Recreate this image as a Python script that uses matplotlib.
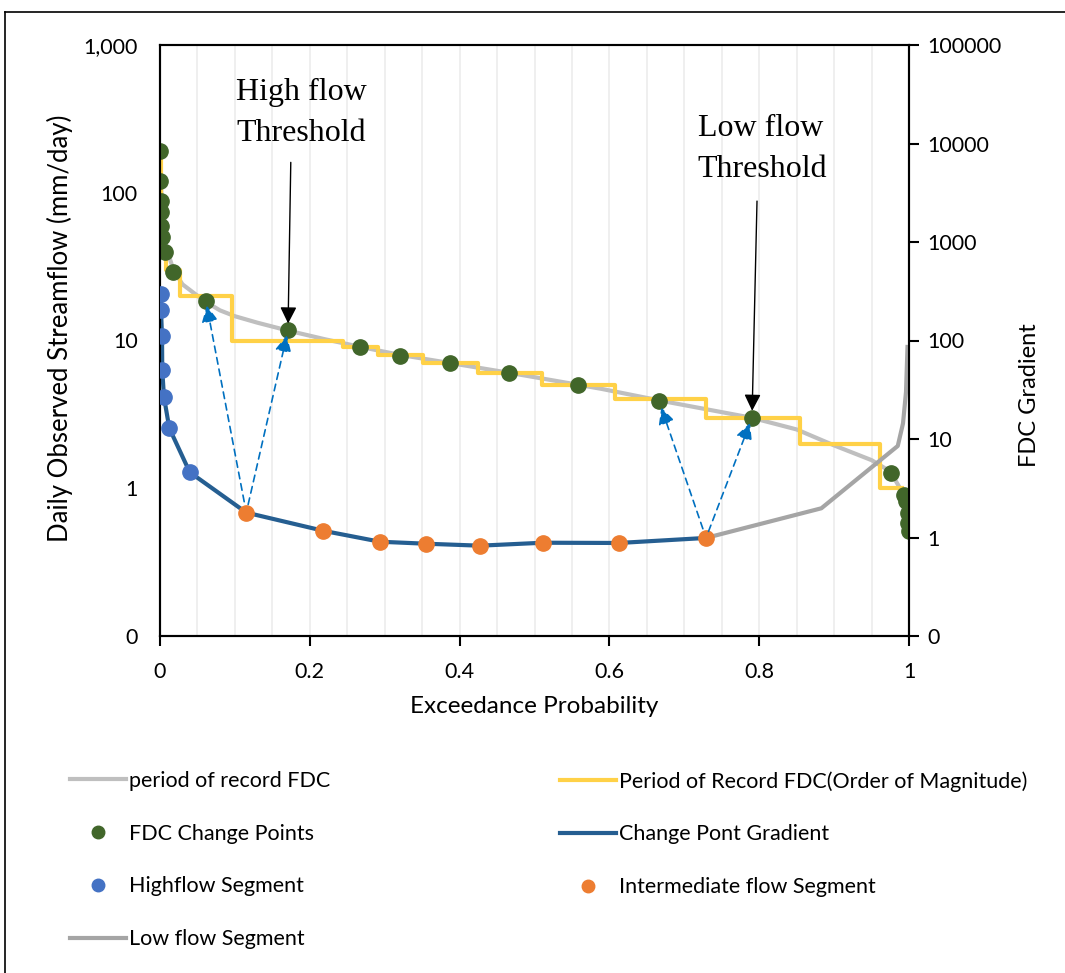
import numpy as np
import matplotlib.pyplot as plt
from matplotlib.lines import Line2D
from matplotlib.ticker import NullLocator

plt.rcParams.update({
    'font.family': 'Lato',
    'font.size': 15.5,
    'axes.linewidth': 1.5,
})

# period of record FDC (left axis, mm/day)
fdc_p = [0, 0.001, 0.003, 0.006, 0.01, 0.018, 0.03, 0.045, 0.06, 0.08, 0.1, 0.13, 0.17,
         0.22, 0.27, 0.32, 0.39, 0.47, 0.56, 0.59, 0.67, 0.79, 0.85, 0.9, 0.95, 0.975,
         0.988, 0.995, 1.0]
fdc_q = [190, 120, 75, 50, 40, 30, 24, 21, 18.4, 16, 14.6, 13.2, 11.7, 10.2, 9.0, 8.0,
         7.0, 6.0, 5.0, 4.7, 3.9, 3.0, 2.5, 1.95, 1.55, 1.3, 1.0, 0.8, 0.5]

# order-of-magnitude FDC (step edges, last value repeated)
oom_p = [0, 0.001, 0.002, 0.004, 0.008, 0.027, 0.096, 0.244, 0.291, 0.351, 0.425,
         0.510, 0.607, 0.729, 0.854, 0.961, 0.991]
oom_q = [200, 100, 60, 40, 30, 20, 10, 9, 8, 7, 6, 5, 4, 3, 2, 1, 1]

# FDC change points
cp_p = [0, 0, 0.0013, 0.0013, 0.0013, 0.0027, 0.0067, 0.0174, 0.0614, 0.1709, 0.267,
        0.3204, 0.387, 0.4659, 0.5581, 0.6662, 0.7904, 0.976, 0.9933, 0.996, 0.9987,
        0.9987, 1.0]
cp_q = [192, 120, 88, 74, 60, 50, 40, 29, 18.4, 11.7, 9.0, 7.9, 7.0, 6.0, 5.0, 3.9, 3.0,
        1.26, 0.9, 0.82, 0.68, 0.58, 0.51]

# FDC gradient (right axis)
high_p = [0.0009, 0.0013, 0.0027, 0.003, 0.0053, 0.0124, 0.0397]
high_g = [297, 204, 111, 50, 26.7, 12.9, 4.6]
mid_p = [0.1152, 0.218, 0.2937, 0.3547, 0.4272, 0.5113, 0.6128, 0.729]
mid_g = [1.79, 1.17, 0.906, 0.865, 0.826, 0.885, 0.88, 0.99]
low_p = [0.729, 0.883, 0.985, 0.992, 0.996, 0.998]
low_g = [0.99, 1.98, 8.5, 14.4, 30, 86]

c_fdc = '#bfbfbf'
c_oom = '#ffd147'
c_cp = '#41662a'
c_grad = '#255e91'
c_high = '#4472c4'
c_mid = '#ed7d31'
c_low = '#a5a5a5'

fig = plt.figure(figsize=(10.65, 9.73), dpi=100)
ax = fig.add_axes([160/1065, 1 - 636/973, 749/1065, 591/973])
ax2 = ax.twinx()

# left axis
ax.set_xlim(0, 1)
ax.set_yscale('log')
ax.set_ylim(0.1, 1000)
ax.set_yticks([0.1, 1, 10, 100, 1000])
ax.set_yticklabels(['0', '1', '10', '100', '1,000'])
ax.yaxis.set_minor_locator(NullLocator())
ax.set_xticks([0, 0.2, 0.4, 0.6, 0.8, 1])
ax.set_xticklabels(['0', '0.2', '0.4', '0.6', '0.8', '1'])
ax.set_xticks(np.arange(0.05, 1.0, 0.05), minor=True)
ax.grid(which='both', axis='x', color='#ececec', lw=1.2, zorder=0)
ax.set_axisbelow(True)
ax.tick_params(axis='y', length=0, pad=16)
ax.tick_params(axis='x', which='major', length=7, width=1.5, pad=12)
ax.tick_params(axis='x', which='minor', length=0)
ax.spines['top'].set_color('#404040')
ax.set_xlabel('Exceedance Probability', fontsize=17.5, labelpad=10)
ax.set_ylabel('Daily Observed Streamflow (mm/day)', fontsize=18.5)
ax.yaxis.set_label_coords(-0.116, 0.52)

# right axis
ax2.set_yscale('log')
ax2.set_ylim(0.1, 100000)
ax2.set_yticks([0.1, 1, 10, 100, 1000, 10000, 100000])
ax2.set_yticklabels(['0', '1', '10', '100', '1000', '10000', '100000'])
ax2.yaxis.set_minor_locator(NullLocator())
ax2.tick_params(axis='y', length=7, width=1.5, pad=6)
ax2.set_ylabel('FDC Gradient', fontsize=17)
ax2.yaxis.set_label_coords(1.147, 0.408)

# series
ax.plot(oom_p, oom_q, drawstyle='steps-post', color=c_oom, lw=3, zorder=2)
ax.plot(fdc_p, fdc_q, color=c_fdc, lw=3, zorder=1.5)
ax.plot(cp_p, cp_q, 'o', color=c_cp, ms=11, zorder=4)

grad_p = high_p + mid_p
grad_g = high_g + mid_g
ax2.plot(grad_p, grad_g, color=c_grad, lw=3, zorder=2)
ax2.plot(low_p, low_g, color=c_low, lw=3, zorder=2)
ax2.plot(high_p, high_g, 'o', color=c_high, ms=11, zorder=3)
ax2.plot(mid_p, mid_g, 'o', color=c_mid, ms=11, zorder=3)

# dashed arrows from segment boundaries to the matching FDC points
links = [(0, 8, 8, 3), (0, 9, 6, 3.5), (-1, 15, 7, 5), (-1, 16, 5, 4)]
for mi, ci, sa, sb in links:
    ax2.annotate('', xy=(cp_p[ci], cp_q[ci]), xycoords=ax.transData,
                 xytext=(mid_p[mi], mid_g[mi]), textcoords=ax2.transData,
                 arrowprops=dict(arrowstyle='-|>', color='#0070c0', lw=1.2,
                                 linestyle=(0, (4, 3)), mutation_scale=25,
                                 shrinkA=sa, shrinkB=sb), zorder=5)

# threshold labels
serif = 'Liberation Serif'
ax2.annotate('', xy=(cp_p[9], cp_q[9]), xycoords=ax.transData,
             xytext=(2, 121), textcoords='offset points',
             arrowprops=dict(arrowstyle='-|>', color='black', lw=1.0,
                             mutation_scale=25, shrinkA=0, shrinkB=5), zorder=6)
ax2.annotate('', xy=(cp_p[16], cp_q[16]), xycoords=ax.transData,
             xytext=(3.6, 156), textcoords='offset points',
             arrowprops=dict(arrowstyle='-|>', color='black', lw=1.0,
                             mutation_scale=25, shrinkA=0, shrinkB=5), zorder=6)
ax.text(0.1015, 0.945, 'High flow\nThreshold', transform=ax.transAxes, family=serif,
        fontsize=23, ha='left', va='top', linespacing=1.55)
ax.text(0.718, 0.883, 'Low flow\nThreshold', transform=ax.transAxes, family=serif,
        fontsize=23, ha='left', va='top', linespacing=1.55)

# legend
h1 = [Line2D([], [], color=c_fdc, lw=3),
      Line2D([], [], ls='none', marker='o', color=c_cp, ms=9),
      Line2D([], [], ls='none', marker='o', color=c_high, ms=9),
      Line2D([], [], color=c_low, lw=3)]
l1 = ['period of record FDC', 'FDC Change Points', 'Highflow Segment', 'Low flow Segment']
h2 = [Line2D([], [], color=c_oom, lw=3),
      Line2D([], [], color=c_grad, lw=3),
      Line2D([], [], ls='none', marker='o', color=c_mid, ms=9)]
l2 = ['Period of Record FDC(Order of Magnitude)', 'Change Pont Gradient',
      'Intermediate flow Segment']
leg_kw = dict(loc='upper left', frameon=False, borderpad=0, borderaxespad=0,
              handlelength=2.6, handletextpad=0.12, labelspacing=1.52, fontsize=15.5)
fig.legend(h1, l1, bbox_to_anchor=(70/1065, 1 - 771/973), **leg_kw)
fig.legend(h2, l2, bbox_to_anchor=(560/1065, 1 - 771/973), **leg_kw)

# outer chart border
x0 = 5/1065
y1 = 1 - 12/973
fig.add_artist(Line2D([x0, x0], [0, y1], transform=fig.transFigure, color='black', lw=1.2))
fig.add_artist(Line2D([x0, 1], [y1, y1], transform=fig.transFigure, color='black', lw=1.2))

fig.savefig('out.png', dpi=100)
